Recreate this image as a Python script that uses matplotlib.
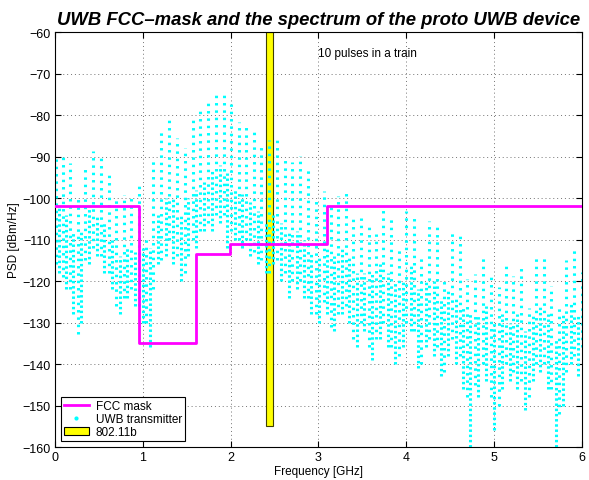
import matplotlib.pyplot as plt
from matplotlib.lines import Line2D
from matplotlib.patches import Patch

plt.rcParams['font.family'] = ['Liberation Sans', 'DejaVu Sans']

# FCC indoor mask (GHz, dBm/Hz), drawn as a step line
mask_f = [0, 0.96, 1.61, 1.99, 3.1, 6.0]
mask_psd = [-102, -135, -113.5, -111, -102, -102]

# measured spectrum: comb lines (peak columns)
peak_f = [0.01, 0.09, 0.17, 0.26, 0.34, 0.43, 0.52, 0.61, 0.69, 0.78, 0.87, 0.96,
          1.04, 1.12, 1.21, 1.30, 1.39, 1.48, 1.57, 1.65, 1.74, 1.83, 1.92, 2.00,
          2.09, 2.18, 2.27, 2.35, 2.44, 2.53, 2.62, 2.70, 2.79, 2.88, 2.97, 3.06,
          3.14, 3.22, 3.31, 3.39, 3.48, 3.57, 3.65, 3.74, 3.83, 3.92, 4.00, 4.09,
          4.17, 4.26, 4.35, 4.43, 4.52, 4.61, 4.69, 4.78, 4.87, 4.96, 5.05, 5.13,
          5.22, 5.31, 5.40, 5.48, 5.57, 5.65, 5.74, 5.82, 5.91, 6.00]
peak_hi = [-90.6, -89.8, -91.6, -100, -92.4, -88.6, -90, -94, -99.6, -99.3, -99, -96,
           -109, -90.6, -83, -81, -85.5, -87.8, -80.8, -78.4, -77, -75, -74.8, -77.3,
           -81.7, -82, -83, -86.6, -86, -85.8, -90.6, -91.4, -89.8, -93, -100, -98.3,
           -101.8, -99.6, -98.5, -104.6, -104.8, -106, -108.6, -102.2, -105, -111.5, -103, -104.2,
           -114.3, -105.5, -107, -119.6, -108.3, -109, -119.6, -118.3, -113.5, -118.7, -121.5, -116.2,
           -118.7, -115.9, -126.4, -114.3, -114.5, -121.1, -126, -115, -112.6, -117.8]
peak_lo = [-116, -119, -122, -132.7, -115, -112, -114, -118, -126, -124, -122, -126,
           -130, -122, -115, -110, -114, -118, -110, -108, -106, -104, -104, -108,
           -110, -110, -113, -115, -118, -115, -118, -120, -120, -124, -128, -125,
           -131, -128, -126, -134, -130, -136, -134, -130, -136, -138, -130, -132,
           -140, -134, -136, -142, -134, -138, -148, -145, -140, -148, -150, -140,
           -142, -144, -148, -140, -140, -146, -152, -142, -138, -136]

# spectrum between comb lines (dense band and notches)
band_f = [0.05, 0.13, 0.21, 0.30, 0.39, 0.48, 0.56, 0.65, 0.74, 0.82, 0.91, 1.00,
          1.08, 1.17, 1.26, 1.34, 1.44, 1.52, 1.61, 1.70, 1.79, 1.88, 1.96, 2.05,
          2.13, 2.22, 2.31, 2.40, 2.48, 2.57, 2.66, 2.75, 2.84, 2.92, 3.01, 3.10,
          3.18, 3.27, 3.35, 3.44, 3.52, 3.61, 3.70, 3.79, 3.87, 3.96, 4.05, 4.13,
          4.22, 4.31, 4.39, 4.48, 4.57, 4.65, 4.73, 4.82, 4.91, 5.00, 5.09, 5.18,
          5.26, 5.35, 5.44, 5.52, 5.61, 5.70, 5.78, 5.87, 5.95]
band_hi = [-102, -104, -108, -108, -102, -104, -106, -110, -114, -112, -113, -112,
           -112, -104, -100, -100, -104, -100, -98, -96, -93, -92, -94, -98,
           -99, -101, -103, -106, -104, -106, -108, -108, -110, -113, -114, -112,
           -114, -112, -114, -118, -118, -118, -116, -118, -120, -120, -116, -122,
           -120, -120, -124, -122, -124, -126, -128, -128, -126, -130, -128, -130,
           -128, -132, -128, -126, -128, -134, -128, -125, -128]
band_lo = [-118, -122, -128, -130, -116, -114, -118, -122, -128, -124, -126, -130,
           -136, -116, -114, -116, -120, -114, -112, -108, -108, -106, -112, -110,
           -112, -114, -116, -118, -116, -120, -124, -122, -124, -128, -130, -128,
           -132, -128, -130, -136, -132, -139, -134, -136, -140, -136, -132, -141,
           -136, -138, -143, -138, -140, -146, -160, -148, -144, -156, -146, -144,
           -146, -151, -144, -142, -146, -160, -150, -140, -143]

# 802.11b band
wifi_lo, wifi_hi = 2.4, 2.4835
wifi_floor, wifi_top = -155, -60

fig, ax = plt.subplots(figsize=(5.89, 4.81), dpi=100)
fig.subplots_adjust(left=0.0934, right=0.988, bottom=0.0686, top=0.931)

ax.bar((wifi_lo + wifi_hi) / 2, wifi_top - wifi_floor, bottom=wifi_floor,
       width=wifi_hi - wifi_lo, color='yellow', edgecolor='#404000', linewidth=0.8, zorder=1)

# band columns packed tighter than the sparse comb-line columns
ax.vlines(band_f, band_lo, band_hi, colors='cyan', linewidth=2.2,
          linestyles=[(0, (0.8, 0.9))], zorder=2)
ax.vlines(peak_f, peak_lo, peak_hi, colors='cyan', linewidth=2.2,
          linestyles=[(0, (0.8, 1.6))], zorder=2)

ax.step(mask_f, mask_psd, where='post', color='magenta', linewidth=2, zorder=3)

ax.text(3.0, -65, '10 pulses in a train', fontsize=8.5, va='center')

ax.set_xlim(0, 6)
ax.set_ylim(-160, -60)
ax.set_xticks(range(0, 7))
ax.set_yticks(range(-160, -59, 10))
ax.tick_params(direction='in', top=True, right=True, labelsize=9, length=4, pad=3)
ax.grid(True, linestyle=(0, (1, 3)), color='0.45', linewidth=0.7)
ax.set_axisbelow(True)
ax.set_xlabel('Frequency [GHz]', fontsize=8.5, labelpad=1)
ax.set_ylabel('PSD [dBm/Hz]', fontsize=8.5, labelpad=2)
ax.set_title('UWB FCC\u2013mask and the spectrum of the proto UWB device',
             fontsize=13.3, fontweight='bold', fontstyle='italic', pad=6)

handles = [Line2D([], [], color='magenta', linewidth=2),
           Line2D([], [], color='cyan', linestyle='none', marker='.', markersize=4),
           Patch(facecolor='yellow', edgecolor='black', linewidth=0.8)]
leg = ax.legend(handles, ['FCC mask', 'UWB transmitter', '802.11b'], loc='lower left',
                fontsize=8.5, fancybox=False, edgecolor='black', framealpha=1,
                borderpad=0.25, labelspacing=0.1, handlelength=2.1, handletextpad=0.6,
                borderaxespad=0.5)
leg.get_frame().set_linewidth(0.8)

fig.savefig('out.png', dpi=100)
